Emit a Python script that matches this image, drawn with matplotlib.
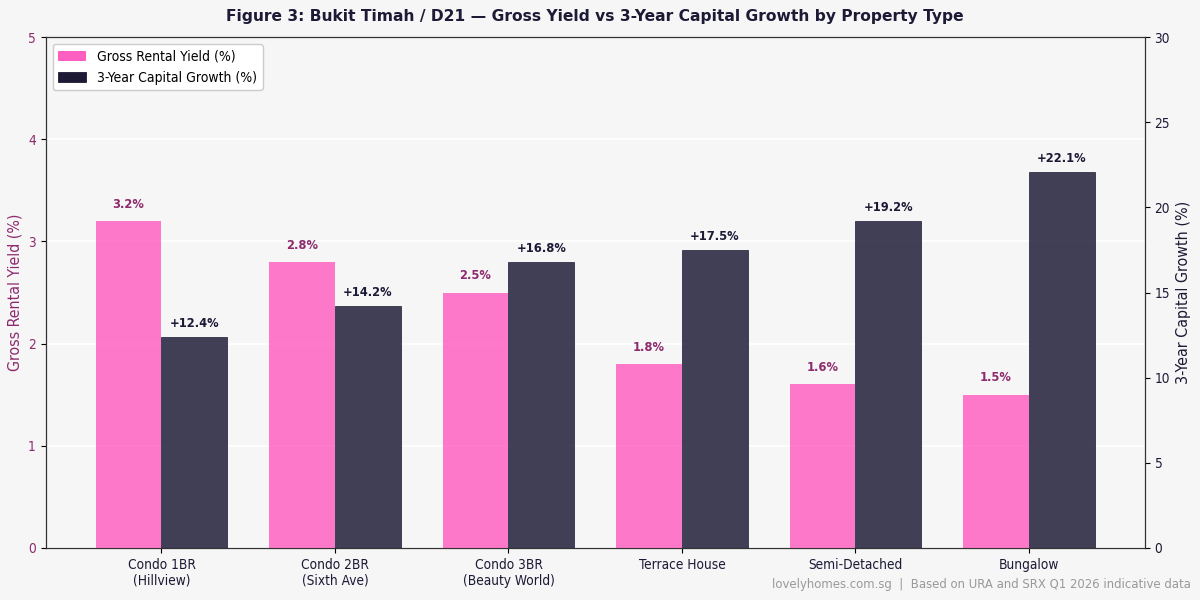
import numpy as np
import matplotlib.pyplot as plt

# -------------------------------
# Data
# -------------------------------
categories = ["Condo 1BR\n(Hillview)", "Condo 2BR\n(Sixth Ave)", "Condo 3BR\n(Beauty World)",
              "Terrace House", "Semi-Detached", "Bungalow"]
gross_yield = [3.2, 2.8, 2.5, 1.8, 1.6, 1.5]
capital_growth = [12.4, 14.2, 16.8, 17.5, 19.2, 22.1]

pink = "#ff5fc0"
navy = "#1c1a35"
plum = "#8e2a6e"
bg = "#f6f6f6"

plt.rcParams["font.family"] = ["DejaVu Sans"]
plt.rcParams["font.stretch"] = "condensed"

# -------------------------------
# Plot
# -------------------------------
fig, ax1 = plt.subplots(figsize=(12, 6), dpi=100)
fig.patch.set_facecolor(bg)
ax1.set_facecolor(bg)

x = np.arange(len(categories))
w = 0.38

ax2 = ax1.twinx()

b1 = ax1.bar(x - w / 2, gross_yield, w, color=pink, alpha=0.83, label="Gross Rental Yield (%)", zorder=3)
b2 = ax2.bar(x + w / 2, capital_growth, w, color=navy, alpha=0.83, edgecolor=navy, linewidth=0.6,
             label="3-Year Capital Growth (%)", zorder=3)

ax1.set_ylim(0, 5)
ax2.set_ylim(0, 30)
ax1.set_yticks([0, 1, 2, 3, 4, 5])
ax2.set_yticks([0, 5, 10, 15, 20, 25, 30])
ax1.grid(axis="y", color="white", linewidth=1.2, zorder=0)
ax1.set_axisbelow(True)

ax1.set_xticks(x)
ax1.set_xticklabels(categories, fontsize=9.8, color=navy)
ax1.tick_params(axis="y", labelcolor=plum, labelsize=9.8)
ax2.tick_params(axis="y", labelcolor=navy, labelsize=9.8)
ax1.set_ylabel("Gross Rental Yield (%)", color=plum, fontsize=11.4)
ax2.set_ylabel("3-Year Capital Growth (%)", color=navy, fontsize=11.5)

# value labels above the bars
for bar, v in zip(b1, gross_yield):
    ax1.text(bar.get_x() + bar.get_width() / 2, v + 0.1, f"{v:.1f}%",
             ha="center", va="bottom", fontsize=8.3, fontweight="bold", fontstretch="normal", color=plum)
for bar, v in zip(b2, capital_growth):
    ax2.text(bar.get_x() + bar.get_width() / 2, v + 0.4, f"+{v:.1f}%",
             ha="center", va="bottom", fontsize=8.3, fontweight="bold", fontstretch="normal", color=navy)

for s in ax2.spines.values():
    s.set_color("#333333")

h1, l1 = ax1.get_legend_handles_labels()
h2, l2 = ax2.get_legend_handles_labels()
leg = ax1.legend(h1 + h2, l1 + l2, loc="upper left", fontsize=10, facecolor="white", framealpha=1)
for p in leg.legend_handles:
    p.set_alpha(1)

ax1.set_title("Figure 3: Bukit Timah / D21 \u2014 Gross Yield vs 3-Year Capital Growth by Property Type",
              fontsize=11.2, fontweight="bold", fontstretch="normal", color=navy, pad=11.5)
fig.text(0.992, 0.015, "lovelyhomes.com.sg  |  Based on URA and SRX Q1 2026 indicative data",
         ha="right", va="bottom", fontsize=9.35, color="#999999")

plt.subplots_adjust(left=0.038, right=0.954, top=0.938, bottom=0.087)
plt.savefig("out.png", dpi=100, facecolor=bg)
